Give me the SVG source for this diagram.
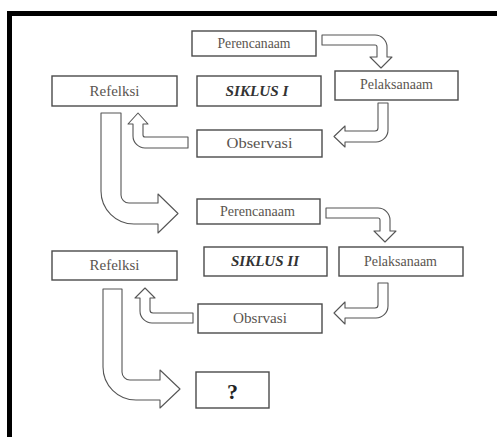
<svg xmlns="http://www.w3.org/2000/svg" width="497" height="437" viewBox="0 0 497 437">
<style>
.box rect{fill:#fff;stroke:#4a4a4a;stroke-width:1.4}
.box text{font-family:"Liberation Serif","Times New Roman",serif;font-size:14px;fill:#5a5550;text-anchor:middle}
.box text.sik{font-weight:bold;font-style:italic;fill:#333}
.box text.q{font-weight:bold;font-size:22px;fill:#222}
.arr path{fill:#fff;stroke:#555;stroke-width:1.1;stroke-linejoin:round}
</style>
<rect width="497" height="437" fill="#fff"/>
<path d="M9.5,440 V13.5 H500" fill="none" stroke="#000" stroke-width="5"/>
<g class="arr" id="connectors">
<path d="M322,35 H375 A12,12 0 0 1 387,47 V57 H392 L381,68 L370,57 H377 V47 A2,2 0 0 0 375,45 H322 Z"/>
<path d="M378,103 H388 V130 A12,12 0 0 1 376,142 H345 V147 L334,136.5 L345,126 V131 H375 A3,3 0 0 0 378,128 Z"/>
<path d="M188,137 V148 H145 A12,12 0 0 1 133,136 V124 H128 L138,113 L148,124 H143 V135 A2,2 0 0 0 145,137 Z"/>
<path d="M101,113 H121 V195 A8,8 0 0 0 129,203 H158 V194 L178,213.5 L158,233 V224 H134 A33,33 0 0 1 101,191 Z"/>
<path d="M326,208 H378 A12,12 0 0 1 390,220 V231 H396 L385,242 L374,231 H380 V220 A2,2 0 0 0 378,218 H326 Z"/>
<path d="M378,283 H388 V306 A12,12 0 0 1 376,318 H345 V324 L334,313 L345,302 V308 H375 A3,3 0 0 0 378,305 Z"/>
<path d="M193,313 V323 H152 A12,12 0 0 1 140,311 V298 H135 L145,288 L155,298 H150 V310 A3,3 0 0 0 153,313 Z"/>
<path d="M103,289 H122 V372 A8,8 0 0 0 130,380 H160 V370 L180,389 L160,408 V400 H136 A33,33 0 0 1 103,367 Z"/>
</g>
<g class="box" id="perencanaan1"><rect x="192" y="31" width="124" height="25"/><text x="254" y="48" textLength="73" lengthAdjust="spacingAndGlyphs">Perencanaam</text></g>
<g class="box" id="refleksi1"><rect x="52" y="76" width="125" height="30"/><text x="114.5" y="95.5" textLength="50" lengthAdjust="spacingAndGlyphs">Refelksi</text></g>
<g class="box" id="siklus1"><rect x="197" y="76" width="124" height="30"/><text class="sik" x="257" y="95.5" textLength="63" lengthAdjust="spacingAndGlyphs">SIKLUS I</text></g>
<g class="box" id="pelaksanaan1"><rect x="335" y="71" width="123" height="29"/><text x="396.5" y="89" textLength="73" lengthAdjust="spacingAndGlyphs">Pelaksanaam</text></g>
<g class="box" id="observasi1"><rect x="197" y="130" width="125" height="27"/><text x="259.5" y="148" textLength="66" lengthAdjust="spacingAndGlyphs">Observasi</text></g>
<g class="box" id="perencanaan2"><rect x="197" y="199" width="123" height="25"/><text x="257.5" y="216" textLength="75" lengthAdjust="spacingAndGlyphs">Perencanaam</text></g>
<g class="box" id="refleksi2"><rect x="52" y="251" width="125" height="29"/><text x="114.5" y="270" textLength="50" lengthAdjust="spacingAndGlyphs">Refelksi</text></g>
<g class="box" id="siklus2"><rect x="204" y="247" width="123" height="29"/><text class="sik" x="265" y="266" textLength="68" lengthAdjust="spacingAndGlyphs">SIKLUS II</text></g>
<g class="box" id="pelaksanaan2"><rect x="339" y="247" width="124" height="29"/><text x="400.5" y="266" textLength="73" lengthAdjust="spacingAndGlyphs">Pelaksanaam</text></g>
<g class="box" id="observasi2"><rect x="198" y="304" width="124" height="29"/><text x="260" y="323" textLength="54" lengthAdjust="spacingAndGlyphs">Obsrvasi</text></g>
<g class="box" id="next"><rect x="196" y="372" width="73" height="36"/><text class="q" x="232.5" y="399">?</text></g>
</svg>
